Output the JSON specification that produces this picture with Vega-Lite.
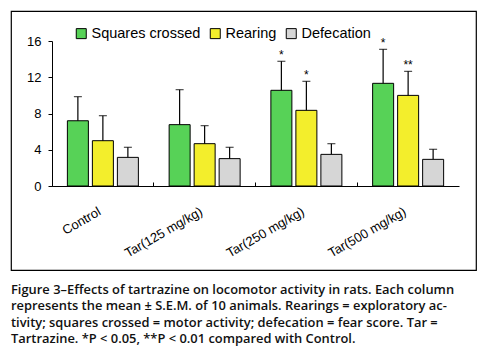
{
  "$schema": "https://vega.github.io/schema/vega-lite/v6.json",
  "width": 465,
  "height": 259,
  "padding": {"left": 11, "top": 11, "right": 12, "bottom": 4},
  "config": {
    "view": {"stroke": "#000", "strokeWidth": 1.2},
    "font": "Liberation Sans",
    "axis": {"labelColor": "#000", "domainColor": "#000", "tickColor": "#000", "grid": false, "title": null}
  },
  "title": {
    "text": [
      "Figure 3–Effects of tartrazine on locomotor activity in rats. Each column",
      "represents the mean ± S.E.M. of 10 animals. Rearings = exploratory ac-",
      "tivity; squares crossed = motor activity; defecation = fear score. Tar =",
      "Tartrazine. *P < 0.05, **P < 0.01 compared with Control."
    ],
    "orient": "bottom",
    "anchor": "start",
    "frame": "group",
    "offset": 14,
    "font": "Open Sans",
    "fontSize": 12.9,
    "fontWeight": 600,
    "lineHeight": 16.3,
    "color": "#111"
  },
  "resolve": {"axis": {"x": "independent"}},
  "data": {
    "values": [
      {"group": "Control", "series": "Squares crossed", "mean": 7.2, "upper": 9.86, "sig": ""},
      {"group": "Control", "series": "Rearing", "mean": 5.0, "upper": 7.76, "sig": ""},
      {"group": "Control", "series": "Defecation", "mean": 3.16, "upper": 4.27, "sig": ""},
      {"group": "Tar(125 mg/kg)", "series": "Squares crossed", "mean": 6.77, "upper": 10.63, "sig": ""},
      {"group": "Tar(125 mg/kg)", "series": "Rearing", "mean": 4.67, "upper": 6.66, "sig": ""},
      {"group": "Tar(125 mg/kg)", "series": "Defecation", "mean": 3.02, "upper": 4.27, "sig": ""},
      {"group": "Tar(250 mg/kg)", "series": "Squares crossed", "mean": 10.56, "upper": 13.76, "sig": "*"},
      {"group": "Tar(250 mg/kg)", "series": "Rearing", "mean": 8.35, "upper": 11.55, "sig": "*"},
      {"group": "Tar(250 mg/kg)", "series": "Defecation", "mean": 3.49, "upper": 4.67, "sig": ""},
      {"group": "Tar(500 mg/kg)", "series": "Squares crossed", "mean": 11.33, "upper": 15.08, "sig": "*"},
      {"group": "Tar(500 mg/kg)", "series": "Rearing", "mean": 10.0, "upper": 12.65, "sig": "**"},
      {"group": "Tar(500 mg/kg)", "series": "Defecation", "mean": 2.94, "upper": 4.05, "sig": ""}
    ]
  },
  "encoding": {
    "x": {
      "field": "group", "type": "nominal", "sort": null, "axis": null,
      "scale": {"range": [41, 448], "paddingInner": 0, "paddingOuter": 0}
    },
    "xOffset": {
      "field": "series", "type": "nominal",
      "sort": ["Squares crossed", "Rearing", "Defecation"],
      "scale": {"paddingInner": 0.16, "paddingOuter": 0.615}
    }
  },
  "layer": [
    {
      "mark": {"type": "bar", "stroke": "#000", "strokeWidth": 1},
      "encoding": {
        "x": {
          "field": "group", "type": "nominal", "sort": null,
          "scale": {"range": [41, 448], "paddingInner": 0, "paddingOuter": 0},
          "axis": {
            "orient": "bottom", "offset": -84, "domain": false, "ticks": false,
            "labelAngle": -30, "labelAlign": "right", "labelBaseline": "top",
            "labelFontSize": 13, "labelPadding": 19, "labelOffset": -6
          }
        },
        "y": {
          "field": "mean", "type": "quantitative",
          "scale": {"domain": [0, 16], "range": [175, 30], "nice": false},
          "axis": {
            "orient": "left", "offset": -41, "values": [0, 4, 8, 12, 16],
            "tickSize": 4, "labelPadding": 7, "labelFontSize": 13
          }
        },
        "color": {
          "field": "series", "type": "nominal",
          "scale": {"domain": ["Squares crossed", "Rearing", "Defecation"], "range": ["#57d257", "#f3ee2c", "#d6d6d6"]},
          "legend": {
            "title": null, "orient": "none", "legendX": 63, "legendY": 15,
            "direction": "horizontal", "symbolType": "square", "symbolSize": 100,
            "symbolStrokeColor": "#000", "symbolStrokeWidth": 1, "symbolOpacity": 1,
            "labelFontSize": 14.5, "labelColor": "#000", "columnPadding": 7, "labelOffset": 3
          }
        }
      }
    },
    {
      "mark": {"type": "rule", "color": "#000", "strokeWidth": 1.2},
      "encoding": {
        "x": {
          "field": "group", "type": "nominal", "sort": null,
          "scale": {"range": [41, 448], "paddingInner": 0, "paddingOuter": 0},
          "axis": {
            "orient": "bottom", "offset": -84, "labels": false, "domain": true,
            "ticks": true, "bandPosition": 0, "tickSize": -4
          }
        },
        "y": {"field": "mean", "type": "quantitative"},
        "y2": {"field": "upper"}
      }
    },
    {
      "mark": {"type": "tick", "color": "#000", "size": 8, "thickness": 1.2},
      "encoding": {"y": {"field": "upper", "type": "quantitative"}}
    },
    {
      "mark": {"type": "text", "fontSize": 12, "baseline": "alphabetic", "dy": -2, "color": "#000"},
      "encoding": {
        "y": {"field": "upper", "type": "quantitative"},
        "text": {"field": "sig"}
      }
    }
  ]
}
